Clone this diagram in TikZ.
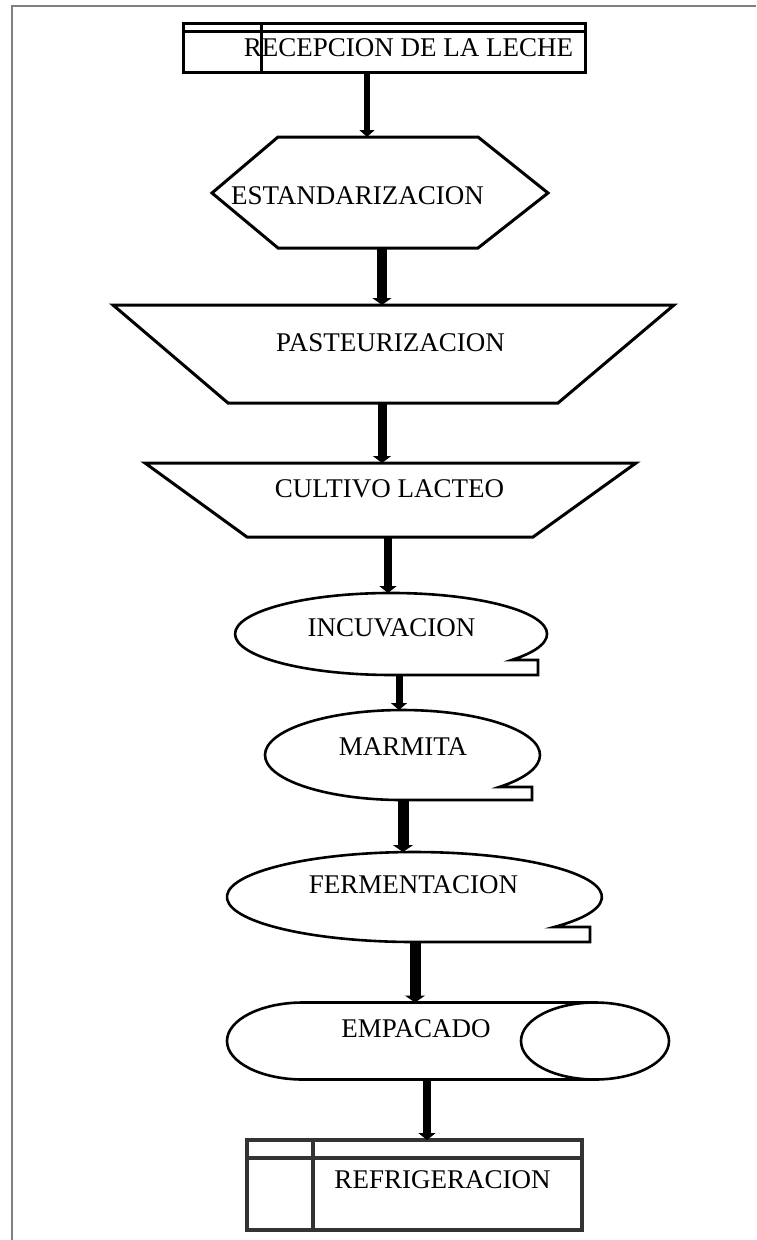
\documentclass[tikz,border=0pt]{standalone}
\usepackage{fontspec}
\setmainfont{Liberation Serif}
\usetikzlibrary{arrows.meta}
\definecolor{framegray}{HTML}{808080}
\definecolor{darkline}{HTML}{333333}
\begin{document}
\begin{tikzpicture}[x=1pt,y=-1pt,
  shp/.style={draw=black,line width=3pt,line join=miter},
  oval/.style={draw=black,line width=2.6pt,line join=miter},
  gbox/.style={draw=darkline,line width=4pt},
  lbl/.style={inner sep=0pt,anchor=base,font=\fontsize{27}{30}\selectfont},
  arr/.style={draw=black,line width=#1,-{Triangle[length=7pt,width=9pt 1]}}]
\useasboundingbox (0,0) rectangle (756,1240);
% frame
\draw[framegray,line width=1.6pt] (12,1240) -- (12,6) -- (756,6);

% RECEPCION
\draw[shp] (183.5,23.5) rectangle (585,72.5);
\draw[shp] (183.5,31.5) -- (585,31.5) (261.5,23.5) -- (261.5,72.5);
\node[lbl] (recep) at (408.5,56) {RECEPCION DE LA LECHE};
\coordinate (recep-out) at (367,72.5);

% ESTANDARIZACION
\draw[shp] (278,137) -- (478,137) -- (548,193) -- (478,248) -- (278,248) -- (212,193) -- cycle;
\node[lbl] (estand) at (357.5,204) {ESTANDARIZACION};
\coordinate (estand-in) at (367,137);
\coordinate (estand-out) at (382,248);

% PASTEURIZACION
\draw[shp] (113,305) -- (674,305) -- (558,403) -- (228,403) -- cycle;
\node[lbl] (paste) at (390.5,351) {PASTEURIZACION};
\coordinate (paste-in) at (382,305);
\coordinate (paste-out) at (382,403);

% CULTIVO LACTEO
\draw[shp] (145,463) -- (636,463) -- (533,537) -- (247,537) -- cycle;
\node[lbl] (cult) at (389.5,497) {CULTIVO LACTEO};
\coordinate (cult-in) at (382,463);
\coordinate (cult-out) at (388,537);

% INCUVACION
\draw[oval] (511.6,660) arc[start angle=39.4,end angle=-270,x radius=156,y radius=41]
  -- (538,675) -- (538,660) -- cycle;
\node[lbl] (incu) at (391.5,636) {INCUVACION};
\coordinate (incu-in) at (388,593);
\coordinate (incu-out) at (399,675);

% MARMITA
\draw[oval] (499.2,787) arc[start angle=45.3,end angle=-270,x radius=137.5,y radius=45]
  -- (532,800) -- (532,787) -- cycle;
\node[lbl] (marm) at (403,755) {MARMITA};
\coordinate (marm-in) at (399,710);
\coordinate (marm-out) at (403,800);

% FERMENTACION
\draw[oval] (554.2,927) arc[start angle=41.8,end angle=-270,x radius=187.5,y radius=45]
  -- (590,942) -- (590,927) -- cycle;
\node[lbl] (ferm) at (413.5,893) {FERMENTACION};
\coordinate (ferm-in) at (403,852);
\coordinate (ferm-out) at (415,942);

% EMPACADO
\draw[oval] (595,1002.5) -- (303,1002.5)
  arc[start angle=-90,end angle=-270,x radius=76,y radius=38.5] -- (595,1079.5);
\draw[oval] (595,1041) ellipse[x radius=74,y radius=38.5];
\node[lbl] (empa) at (416,1037) {EMPACADO};
\coordinate (empa-in) at (415,1002.5);
\coordinate (empa-out) at (427,1079.5);

% REFRIGERACION
\draw[gbox] (247,1140) rectangle (582,1230);
\draw[gbox] (247,1158) -- (582,1158) (313,1140) -- (313,1230);
\node[lbl] (refri) at (442.5,1188) {REFRIGERACION};
\coordinate (refri-in) at (427,1140);

% connectors
\draw[arr=6pt] (recep-out) -- (estand-in);
\draw[arr=10pt] (estand-out) -- (paste-in);
\draw[arr=9pt] (paste-out) -- (cult-in);
\draw[arr=8pt] (cult-out) -- (incu-in);
\draw[arr=7pt] (incu-out) -- (marm-in);
\draw[arr=11pt] (marm-out) -- (ferm-in);
\draw[arr=11pt] (ferm-out) -- (empa-in);
\draw[arr=8pt] (empa-out) -- (refri-in);
\end{tikzpicture}
\end{document}
